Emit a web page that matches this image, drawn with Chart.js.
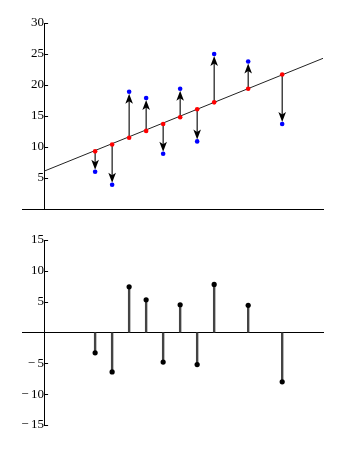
<!DOCTYPE html>
<html>
<head>
<meta charset="utf-8">
<script src="https://cdn.jsdelivr.net/npm/chart.js@4.4.1/dist/chart.umd.min.js"></script>
<style>
    html, body { margin: 0; padding: 0; background: #fff; }
    #wrap { position: relative; width: 350px; height: 450px; }
    canvas { position: absolute; left: 0; }
</style>
</head>
<body>
<div id="wrap">
    <canvas id="fitChart" width="350" height="225" style="top:0"></canvas>
    <canvas id="residChart" width="350" height="225" style="top:225px"></canvas>
</div>
<script>
// data
const xValues = [3, 4, 5, 6, 7, 8, 9, 10, 12, 14];
const observed = [6.0, 3.9, 18.9, 17.9, 8.9, 19.4, 10.9, 25.0, 23.8, 13.7];
const fitted = [9.3, 10.4, 11.5, 12.6, 13.7, 14.8, 16.1, 17.2, 19.4, 21.7];
const residuals = [-3.3, -6.4, 7.4, 5.3, -4.8, 4.5, -5.2, 7.8, 4.4, -8.0];
const fitLineX = [0, 16.4];
const fitLineY = [6.1, 24.3];
const topTicks = [5, 10, 15, 20, 25, 30];
const bottomTicks = [-15, -10, -5, 5, 10, 15];

Chart.defaults.font.family = '"Liberation Serif", "DejaVu Serif", serif';
Chart.defaults.font.size = 13;
Chart.defaults.color = '#000';

const toPoints = (xs, ys) => xs.map((x, i) => ({ x: x, y: ys[i] }));

const minusLabel = v => v < 0 ? '\u2212\u2009' + Math.abs(v) : String(v);

// ticks drawn on the inner (right) side of the y axis
const innerTicks = {
    id: 'innerTicks',
    afterDraw(chart) {
        const { ctx, scales: { x, y } } = chart;
        const ax = x.getPixelForValue(0);
        ctx.save();
        ctx.strokeStyle = '#000';
        ctx.lineWidth = 1;
        y.ticks.forEach(t => {
            const py = Math.round(y.getPixelForValue(t.value)) + 0.5;
            ctx.beginPath();
            ctx.moveTo(ax, py);
            ctx.lineTo(ax + 4, py);
            ctx.stroke();
        });
        ctx.restore();
    }
};

// arrows from fitted value to observed value
const residualArrows = {
    id: 'residualArrows',
    beforeDatasetsDraw(chart) {
        const { ctx, scales: { x, y } } = chart;
        ctx.save();
        ctx.strokeStyle = '#000';
        ctx.fillStyle = '#000';
        ctx.lineWidth = 1.1;
        xValues.forEach((xv, i) => {
            const px = x.getPixelForValue(xv);
            const y0 = y.getPixelForValue(fitted[i]);
            const y1 = y.getPixelForValue(observed[i]);
            const dir = y1 > y0 ? 1 : -1;
            const tip = y1 - dir * 2;
            const headLen = 10;
            const half = 3.8;
            ctx.beginPath();
            ctx.moveTo(px, y0);
            ctx.lineTo(px, tip - dir * 5);
            ctx.stroke();
            ctx.beginPath();
            ctx.moveTo(px, tip);
            ctx.lineTo(px - half, tip - dir * headLen);
            ctx.lineTo(px, tip - dir * (headLen - 2.5));
            ctx.lineTo(px + half, tip - dir * headLen);
            ctx.closePath();
            ctx.fill();
        });
        ctx.restore();
    }
};

// vertical stems from zero to each residual
const stems = {
    id: 'stems',
    beforeDatasetsDraw(chart) {
        const { ctx, scales: { x, y } } = chart;
        const zero = y.getPixelForValue(0);
        ctx.save();
        ctx.strokeStyle = '#444';
        ctx.lineWidth = 2.4;
        xValues.forEach((xv, i) => {
            const px = x.getPixelForValue(xv);
            ctx.beginPath();
            ctx.moveTo(px, zero);
            ctx.lineTo(px, y.getPixelForValue(residuals[i]));
            ctx.stroke();
        });
        ctx.restore();
    }
};

function axes(yMin, yMax, tickList) {
    return {
        x: {
            type: 'linear',
            min: -1.3,
            max: 16.4,
            position: { y: 0 },
            grid: { display: false, drawTicks: false },
            border: { display: true, color: '#000', width: 1 },
            ticks: { display: false }
        },
        y: {
            type: 'linear',
            min: yMin,
            max: yMax,
            position: { x: 0 },
            afterBuildTicks: s => { s.ticks = tickList.map(v => ({ value: v })); },
            grid: { display: false, drawTicks: false },
            border: { display: true, color: '#000', width: 1 },
            ticks: { padding: 4, callback: minusLabel }
        }
    };
}

const baseOptions = {
    responsive: false,
    animation: false,
    plugins: { legend: { display: false }, tooltip: { enabled: false } }
};

new Chart(document.getElementById('fitChart'), {
    type: 'scatter',
    data: {
        datasets: [
            {
                type: 'line',
                data: toPoints(fitLineX, fitLineY),
                borderColor: '#222',
                borderWidth: 1,
                pointRadius: 0,
                order: 3
            },
            {
                data: toPoints(xValues, fitted),
                backgroundColor: '#f00',
                borderWidth: 0,
                pointRadius: 2.3,
                order: 2
            },
            {
                data: toPoints(xValues, observed),
                backgroundColor: '#00f',
                borderWidth: 0,
                pointRadius: 2.3,
                order: 1
            }
        ]
    },
    options: {
        ...baseOptions,
        layout: { padding: { left: 22, right: 27, top: 23, bottom: 16 } },
        scales: axes(0, 30, topTicks)
    },
    plugins: [residualArrows, innerTicks]
});

new Chart(document.getElementById('residChart'), {
    type: 'scatter',
    data: {
        datasets: [{
            data: toPoints(xValues, residuals),
            backgroundColor: '#000',
            borderWidth: 0,
            pointRadius: 2.6
        }]
    },
    options: {
        ...baseOptions,
        layout: { padding: { left: 22, right: 27, top: 15, bottom: 25 } },
        scales: axes(-15, 15, bottomTicks)
    },
    plugins: [stems, innerTicks]
});
</script>
</body>
</html>
